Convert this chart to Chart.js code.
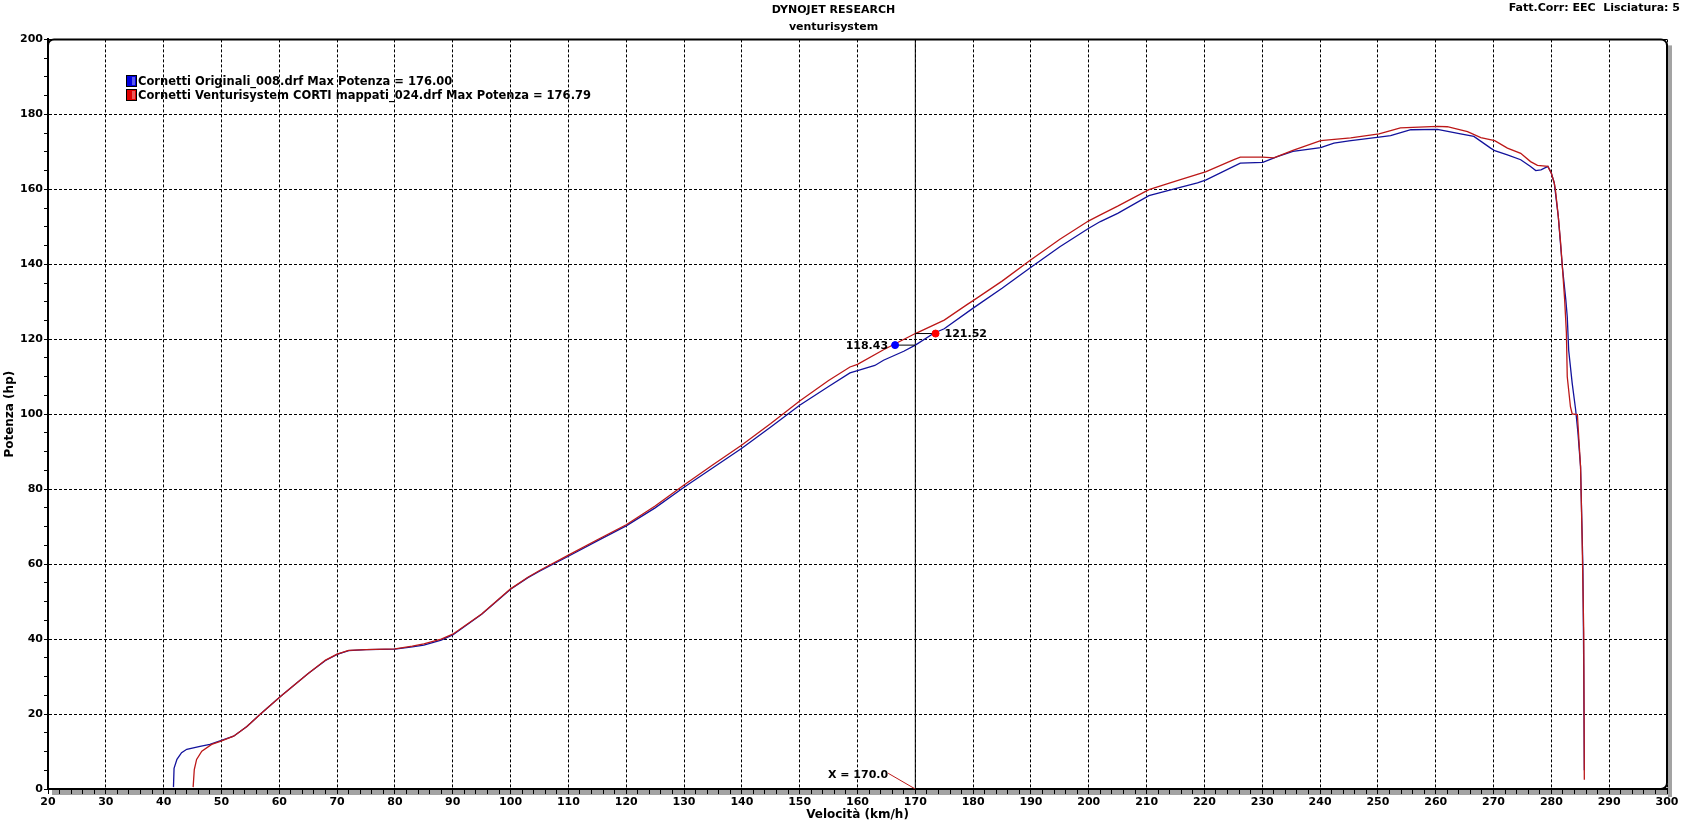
<!DOCTYPE html>
<html lang="it">
<head>
<meta charset="UTF-8">
<title>DYNOJET RESEARCH - venturisystem</title>
<script src="https://cdn.jsdelivr.net/npm/chart.js"></script>
<style>
  html, body { margin: 0; padding: 0; background: #fff; }
  canvas { display: block; }
</style>
</head>
<body>
<canvas id="grafico" width="1691" height="823"></canvas>
<script>
// tacche degli assi
const velocitaTacche = [20, 30, 40, 50, 60, 70, 80, 90, 100, 110, 120, 130, 140, 150, 160, 170, 180, 190, 200, 210, 220, 230, 240, 250, 260, 270, 280, 290, 300];
const potenzaTacche = [0, 20, 40, 60, 80, 100, 120, 140, 160, 180, 200];

// prove al banco
const nomiProve = ["Cornetti Originali_008.drf", "Cornetti Venturisystem CORTI mappati_024.drf"];
const maxPotenza = [176.00, 176.79];

// Cornetti Originali (blu)
const bluVelocita = [41.7, 41.8, 42.3, 43.1, 44.0, 46.3, 48.0, 50.0, 52.1, 54.4, 56.8, 60.2, 65, 68, 70, 72, 75, 80, 83, 85, 88, 90, 95, 100, 103, 105, 110, 115, 120, 125, 130, 135, 140, 145, 150, 155, 158.7, 160, 163, 164.5, 168, 170, 173.2, 175, 180, 185, 190, 195, 200, 202, 205, 210.4, 215.3, 218.8, 220.3, 226.2, 230.1, 232.6, 235.3, 240.1, 242.4, 245, 250.2, 252.2, 255.7, 260.3, 264.3, 266.6, 269.5, 270.2, 272.4, 274.7, 276.4, 277.3, 278.2, 279.4, 280.0, 280.5, 281.2, 281.9, 282.5, 282.75, 283.0, 283.6, 284.2, 284.6, 285.05, 285.45, 285.6, 285.7];
const bluPotenza = [0.5, 5.5, 7.9, 9.7, 10.6, 11.4, 11.9, 13.0, 14.1, 16.7, 20.1, 24.7, 30.8, 34.3, 35.9, 36.9, 37.2, 37.3, 37.9, 38.4, 39.7, 41.1, 46.6, 53.3, 56.4, 58.1, 62.1, 66.2, 70.2, 75.0, 80.5, 85.7, 90.9, 96.6, 102.4, 107.4, 111.0, 111.6, 113.0, 114.4, 116.8, 118.43, 121.6, 122.8, 128.3, 133.6, 139.2, 144.7, 149.6, 151.4, 153.6, 158.3, 160.3, 161.7, 162.5, 167.0, 167.2, 168.7, 170.1, 171.1, 172.3, 172.9, 173.9, 174.3, 175.9, 176.0, 174.8, 174.1, 171.0, 170.3, 169.2, 167.9, 166.1, 165.0, 165.2, 166.1, 164.3, 161.7, 152.7, 139.4, 130.5, 126, 117, 108.3, 101.2, 95, 86, 59.4, 32.7, 5];

// Cornetti Venturisystem CORTI mappati (rosso)
const rossoVelocita = [45.1, 45.3, 45.7, 46.6, 48.3, 49.8, 52.1, 54.4, 56.8, 60.2, 65, 68, 70, 72, 75, 80, 83, 85, 88, 90, 95, 100, 103, 105, 110, 115, 120, 125, 130, 135, 140, 145, 150, 155, 158.7, 160, 164.5, 170, 175, 179, 180, 185, 190, 195, 200, 202, 205, 210.4, 215.3, 220.3, 225.1, 226.2, 230.1, 232.0, 235.3, 240.1, 245.3, 250.2, 253.9, 260.3, 262.0, 265.5, 267.8, 270.2, 272.4, 274.7, 276.4, 277.6, 279.4, 280.0, 280.5, 280.7, 281.2, 281.6, 281.9, 282.3, 282.6, 282.75, 283.3, 283.6, 284.5, 285.05, 285.3, 285.6, 285.7];
const rossoPotenza = [0.5, 5.2, 7.9, 10.1, 11.9, 12.7, 14.1, 16.7, 20.1, 24.7, 30.8, 34.4, 36.0, 37.0, 37.2, 37.4, 38.1, 38.7, 40.0, 41.3, 46.7, 53.4, 56.5, 58.3, 62.4, 66.5, 70.5, 75.5, 81.1, 86.5, 91.8, 97.5, 103.5, 109.0, 112.6, 113.3, 117.2, 121.52, 125.1, 129.3, 130.3, 135.5, 141.2, 146.7, 151.6, 153.2, 155.5, 159.9, 162.3, 164.7, 167.9, 168.6, 168.6, 168.4, 170.4, 173.0, 173.7, 174.8, 176.4, 176.79, 176.7, 175.4, 173.8, 173.0, 171.0, 169.6, 167.4, 166.4, 166.1, 164.3, 161.7, 159.9, 152.7, 145.7, 139.4, 130.5, 121.7, 110, 102, 100.1, 99.9, 86, 68.3, 41.7, 2.5];

// cursore
const cursoreVelocita = 170.0;
const cursorePotenza = [118.43, 121.52];
const letturaVelocita = [166.5, 173.5];
const etichettaCursore = [165.3, 4.2];

const BLU = '#12129c', ROSSO = '#bc1818';
const FONT = '"DejaVu Sans", Verdana, sans-serif';

function punti(xs, ys) { return xs.map((v, i) => ({ x: v, y: ys[i] })); }

const decorazioni = {
  id: 'decorazioni',
  beforeDraw(chart) {
    const { ctx, chartArea: a } = chart;
    ctx.save();
    ctx.fillStyle = '#fff';
    ctx.fillRect(0, 0, chart.width, chart.height);
    ctx.fillStyle = '#a3a3a3';
    ctx.fillRect(a.left + 4, a.bottom + 1, a.right - a.left + 1, 5);
    ctx.fillRect(a.right + 1, a.top + 6, 4, a.bottom - a.top + 2);
    ctx.restore();
  },
  afterDraw(chart) {
    const { ctx, chartArea: a, scales: { x, y } } = chart;
    ctx.save();
    // cornice
    const r = 6;
    ctx.strokeStyle = '#000'; ctx.lineWidth = 2;
    ctx.beginPath();
    ctx.moveTo(a.left, a.bottom);
    ctx.lineTo(a.left, a.top + r);
    ctx.arcTo(a.left, a.top, a.left + r, a.top, r);
    ctx.lineTo(a.right - r, a.top);
    ctx.arcTo(a.right, a.top, a.right, a.top + r, r);
    ctx.lineTo(a.right, a.bottom - r);
    ctx.arcTo(a.right, a.bottom, a.right - r, a.bottom, r);
    ctx.stroke();

    ctx.fillStyle = '#000';
    ctx.textBaseline = 'middle';
    ctx.font = 'bold 11px ' + FONT;
    ctx.textAlign = 'right';
    ctx.fillText('Fatt.Corr: EEC  Lisciatura: 5', 1680, 8);

    // legenda
    const colori = ['#0000e0', '#e00000'];
    ctx.font = 'bold 11.5px ' + FONT;
    ctx.textAlign = 'left';
    nomiProve.forEach((nome, i) => {
      const yy = 81 + i * 14;
      ctx.fillStyle = colori[i];
      ctx.fillRect(127, yy - 5, 9, 10);
      ctx.fillStyle = 'rgba(255,255,255,0.35)';
      ctx.fillRect(132, yy - 4, 3, 8);
      ctx.strokeStyle = '#000'; ctx.lineWidth = 1;
      ctx.strokeRect(126.5, yy - 5.5, 10, 11);
      ctx.fillStyle = '#000';
      ctx.fillText(nome + ' Max Potenza = ' + maxPotenza[i].toFixed(2), 138, yy + 1);
    });

    // letture del cursore
    ctx.font = 'bold 11px ' + FONT;
    ctx.textAlign = 'right';
    ctx.fillText(cursorePotenza[0].toFixed(2),
      x.getPixelForValue(letturaVelocita[0]) - 7, y.getPixelForValue(cursorePotenza[0]) + 1);
    ctx.textAlign = 'left';
    ctx.fillText(cursorePotenza[1].toFixed(2),
      x.getPixelForValue(letturaVelocita[1]) + 9, y.getPixelForValue(cursorePotenza[1]) + 1);
    ctx.textAlign = 'right';
    ctx.fillText('X = ' + cursoreVelocita.toFixed(1),
      x.getPixelForValue(etichettaCursore[0]), y.getPixelForValue(etichettaCursore[1]) + 2);
    ctx.restore();
  }
};

new Chart(document.getElementById('grafico'), {
  type: 'line',
  data: {
    datasets: [
      { label: nomiProve[0], data: punti(bluVelocita, bluPotenza), borderColor: BLU, borderWidth: 1.3, pointRadius: 0, order: 3 },
      { label: nomiProve[1], data: punti(rossoVelocita, rossoPotenza), borderColor: ROSSO, borderWidth: 1.3, pointRadius: 0, order: 2 },
      { label: 'cursore', data: [{ x: cursoreVelocita, y: 0 }, { x: cursoreVelocita, y: 200 }], borderColor: '#000', borderWidth: 1, pointRadius: 0, order: 4 },
      { label: 'etichetta', data: [{ x: etichettaCursore[0], y: etichettaCursore[1] }, { x: cursoreVelocita, y: 0 }], borderColor: ROSSO, borderWidth: 1, pointRadius: 0, order: 4 },
      { label: 'lettura blu', data: [{ x: letturaVelocita[0], y: cursorePotenza[0] }, { x: cursoreVelocita, y: cursorePotenza[0] }], borderColor: '#000', borderWidth: 1, pointRadius: [3.5, 0], pointBackgroundColor: '#0000ff', pointBorderColor: '#0000ff', order: 1 },
      { label: 'lettura rossa', data: [{ x: cursoreVelocita, y: cursorePotenza[1] }, { x: letturaVelocita[1], y: cursorePotenza[1] }], borderColor: '#000', borderWidth: 1, pointRadius: [0, 3.5], pointBackgroundColor: '#ff0000', pointBorderColor: '#ff0000', order: 1 }
    ]
  },
  options: {
    responsive: false,
    devicePixelRatio: 1,
    animation: false,
    layout: { padding: { left: 0, top: 0, right: 24, bottom: 0 } },
    plugins: {
      legend: { display: false },
      tooltip: { enabled: false },
      title: { display: true, text: 'DYNOJET RESEARCH', color: '#000', font: { family: FONT, size: 11, weight: 'bold' }, padding: { top: 4, bottom: 2 } },
      subtitle: { display: true, text: 'venturisystem', color: '#000', font: { family: FONT, size: 11, weight: 'bold' }, padding: { top: 1, bottom: 6 } }
    },
    scales: {
      x: {
        type: 'linear',
        min: velocitaTacche[0],
        max: velocitaTacche[velocitaTacche.length - 1],
        afterFit: s => { s.height = 34; },
        afterBuildTicks: s => {
          const t = [];
          for (let v = s.min; v <= s.max; v += 2) t.push({ value: v });
          s.ticks = t;
        },
        ticks: {
          autoSkip: false, maxRotation: 0, padding: 2, color: '#000',
          font: { family: FONT, size: 11, weight: 'bold' },
          callback: v => velocitaTacche.includes(v) ? v : ''
        },
        grid: {
          color: c => (c.tick && velocitaTacche.includes(c.tick.value)) ? '#000' : 'rgba(0,0,0,0)',
          tickColor: '#000', tickLength: 5, lineWidth: 1
        },
        border: { display: true, color: '#000', width: 2, dash: [3, 2] },
        title: { display: true, text: 'Velocità (km/h)', color: '#000', font: { family: FONT, size: 12, weight: 'bold' }, padding: { top: 0, bottom: 1 } }
      },
      y: {
        min: potenzaTacche[0],
        max: potenzaTacche[potenzaTacche.length - 1],
        afterFit: s => { s.width = 48; },
        afterBuildTicks: s => {
          const t = [];
          for (let v = s.min; v <= s.max; v += 5) t.push({ value: v });
          s.ticks = t;
        },
        ticks: {
          autoSkip: false, padding: 1, color: '#000',
          font: { family: FONT, size: 11, weight: 'bold' },
          callback: v => potenzaTacche.includes(v) ? v : ''
        },
        grid: {
          color: c => (c.tick && potenzaTacche.includes(c.tick.value)) ? '#000' : 'rgba(0,0,0,0)',
          tickColor: '#000', tickLength: 4, lineWidth: 1
        },
        border: { display: true, color: '#000', width: 2, dash: [3, 2] },
        title: { display: true, text: 'Potenza (hp)', color: '#000', font: { family: FONT, size: 12, weight: 'bold' }, padding: { top: 3, bottom: 0 } }
      }
    }
  },
  plugins: [decorazioni]
});
</script>
</body>
</html>
